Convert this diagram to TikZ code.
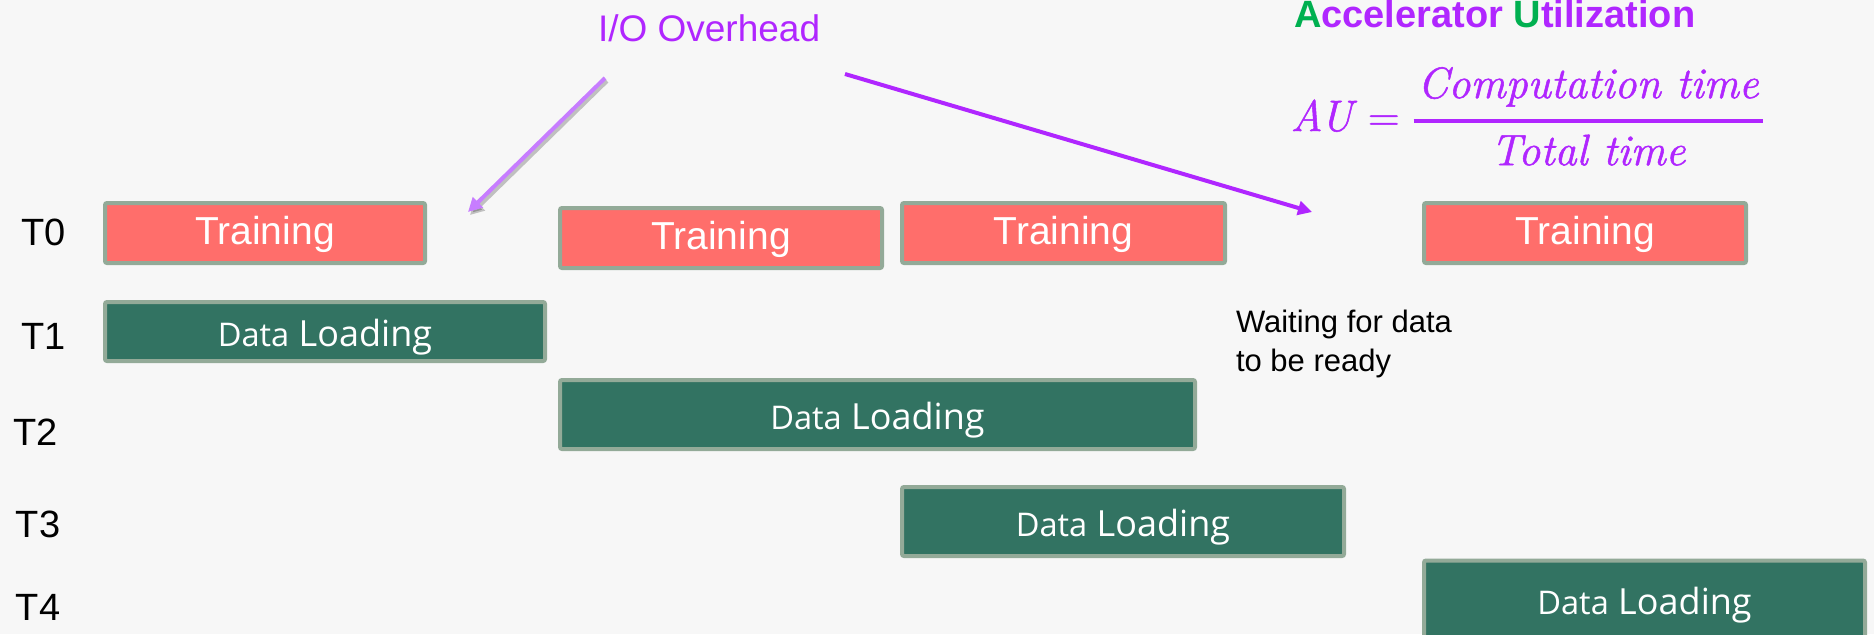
\documentclass[tikz,border=0pt]{standalone}
\usepackage{amsmath}
\usepackage{fontspec}
\usetikzlibrary{arrows.meta}
\newfontfamily\labelfont{Liberation Sans}
\newfontfamily\boxfont{Open Sans}
\newfontfamily\formfont[FakeBold=1.2]{Latin Modern Roman}
\definecolor{bgcol}{HTML}{F7F7F7}
\definecolor{trainfill}{HTML}{FF6E6B}
\definecolor{loadfill}{HTML}{327362}
\definecolor{boxedge}{HTML}{93AA98}
\definecolor{violet}{HTML}{B026FF}
\definecolor{lilac}{HTML}{C77DFF}
\definecolor{accgreen}{HTML}{00B050}
\begin{document}
\begin{tikzpicture}[x=0.5pt,y=-0.5pt,
  every node/.style={inner sep=0pt, outer sep=0pt},
  taskbox/.style={draw=boxedge, line width=2pt, rounded corners=1pt, text=white},
  trainbox/.style={taskbox, fill=trainfill, minimum height=30pt,
    text height=14pt, text depth=2.5pt,
    font=\labelfont\fontsize{19.5}{23}\selectfont},
  loadbox/.style={taskbox, fill=loadfill, text height=14.9pt, text depth=0pt,
    font=\boxfont\fontsize{18}{22}\selectfont},
  rowlabel/.style={anchor=base west, font=\labelfont\fontsize{19}{22}\selectfont},
  ioarrow/.style={line width=2pt, -{Triangle[length=7pt,width=7pt]}},
  ioshadow/.style={ioarrow, draw=black, opacity=0.22},
]
% canvas
\fill[bgcol] (0,0) rectangle (1874,634);
\useasboundingbox (0,0) rectangle (1874,634);

% thread labels
\node[rowlabel] (t0) at (21,245) {T0};
\node[rowlabel] (t1) at (21,349) {T1};
\node[rowlabel] (t2) at (13,445) {T2};
\node[rowlabel] (t3) at (16,537) {T3};
\node[rowlabel] (t4) at (16,620) {T4};

% training steps on T0
\node[trainbox, minimum width=160pt]   (tr1) at (265,233)    {Training};
\node[trainbox, minimum width=161pt]   (tr2) at (721,238)    {Training};
\node[trainbox, minimum width=161.5pt] (tr3) at (1063.5,233) {Training};
\node[trainbox, minimum width=161pt]   (tr4) at (1585,233)   {Training};

% data loading on T1..T4
\node[loadbox, minimum width=220pt, minimum height=29.5pt]   (dl1) at (325,331.5)
  {{\fontsize{16.3}{20}\selectfont Data} Loading};
\node[loadbox, minimum width=317.5pt, minimum height=34.5pt] (dl2) at (877.5,414.5)
  {{\fontsize{16.3}{20}\selectfont Data} Loading};
\node[loadbox, minimum width=221pt, minimum height=34.5pt]   (dl3) at (1123,521.5)
  {{\fontsize{16.3}{20}\selectfont Data} Loading};
\node[loadbox, minimum width=220.5pt, minimum height=39.5pt] (dl4) at (1644.5,600)
  {{\fontsize{16.3}{20}\selectfont Data} Loading};

% annotations
\node[anchor=base west, text=violet, font=\labelfont\fontsize{18.5}{22}\selectfont]
  (io) at (598,41) {I/O Overhead};
\node[anchor=north west, align=left, font=\labelfont\fontsize{15.5}{19.5}\selectfont]
  (wait) at (1236,310) {Waiting for data\\to be ready};
\node[anchor=base west, text=violet, font=\labelfont\bfseries\fontsize{19}{22}\selectfont]
  (autitle) at (1294,27) {\textcolor{accgreen}{A}ccelerator \textcolor{accgreen}{U}tilization};
\node[anchor=base east, text=violet, font=\formfont\itshape\fontsize{22}{26}\selectfont]
  (formula) at (1765,131)
  {$\text{AU\kern2pt}\mathrel{\text{\upshape =}}\genfrac{}{}{2pt}{0}%
    {\text{\kern2pt Computation time\kern2pt}}{\text{Total time}}$};

% overhead arrows
\coordinate (io1from) at (605,78);
\coordinate (io1to)   at (468,212);
\coordinate (io2from) at (845,74);
\coordinate (io2to)   at (1312,212);
\draw[ioshadow] ([shift={(2,3)}]io1from) -- ([shift={(2,3)}]io1to);
\draw[ioarrow, draw=lilac, fill=lilac] (io1from) -- (io1to);
\draw[ioarrow, draw=violet, fill=violet] (io2from) -- (io2to);
\end{tikzpicture}
\end{document}
